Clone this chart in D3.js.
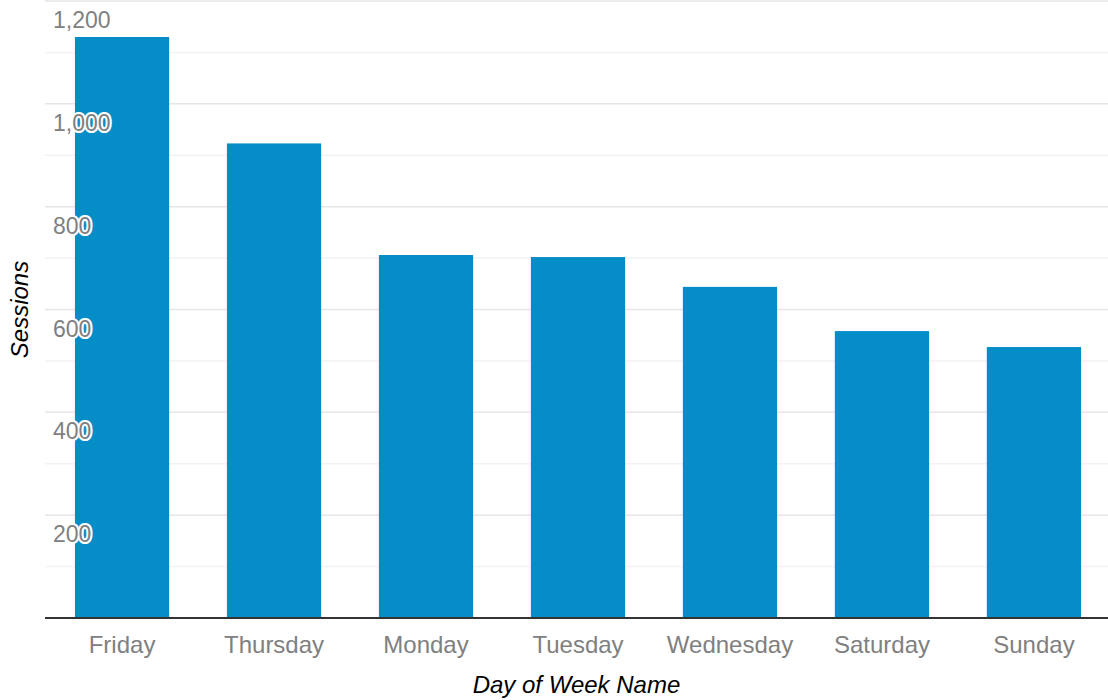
<!DOCTYPE html>
<html>
<head>
<meta charset="utf-8">
<script src="https://cdn.jsdelivr.net/npm/d3@7"></script>
<style>
  body { margin: 0; background: #fff; }
  svg { display: block; font-family: "Liberation Sans", Arial, sans-serif; }
</style>
</head>
<body>
<svg width="1108" height="700"></svg>
<script>
  var days = ["Friday", "Thursday", "Monday", "Tuesday", "Wednesday", "Saturday", "Sunday"];
  var sessions = [1130, 923, 706, 702, 644, 558, 527];
  var majorTicks = [200, 400, 600, 800, 1000, 1200];
  var minorTicks = [100, 300, 500, 700, 900, 1100];

  var svg = d3.select("svg"),
      plotLeft = 45, plotRight = 1108, plotTop = 1, plotBottom = 618;

  // band range runs a few px past the right edge, like the original
  var x = d3.scaleBand().domain(days).range([plotLeft, 1111]).paddingInner(0.38).paddingOuter(0.197),
      y = d3.scaleLinear().domain([0, 1200]).range([plotBottom, plotTop]);

  // grid
  svg.append("g").selectAll("line.minor")
    .data(minorTicks)
    .enter().append("line")
    .attr("class", "minor")
    .attr("x1", plotLeft).attr("x2", plotRight)
    .attr("y1", function(d) { return y(d); })
    .attr("y2", function(d) { return y(d); })
    .attr("stroke", "#f2f2f2")
    .attr("stroke-width", 1.5);

  svg.append("g").selectAll("line.major")
    .data(majorTicks)
    .enter().append("line")
    .attr("class", "major")
    .attr("x1", plotLeft).attr("x2", plotRight)
    .attr("y1", function(d) { return y(d); })
    .attr("y2", function(d) { return y(d); })
    .attr("stroke", "#e6e6e6")
    .attr("stroke-width", 1.5);

  // bars
  svg.append("g").selectAll("rect")
    .data(days)
    .enter().append("rect")
    .attr("x", function(d) { return x(d); })
    .attr("width", x.bandwidth())
    .attr("y", function(d, i) { return y(sessions[i]); })
    .attr("height", function(d, i) { return plotBottom - y(sessions[i]); })
    .attr("fill", "#058dc7");

  // baseline
  svg.append("line")
    .attr("x1", plotLeft).attr("x2", plotRight)
    .attr("y1", plotBottom).attr("y2", plotBottom)
    .attr("stroke", "#333")
    .attr("stroke-width", 2);

  // y tick labels, drawn over bars with a white halo
  svg.append("g").selectAll("text")
    .data(majorTicks)
    .enter().append("text")
    .attr("x", 53)
    .attr("y", function(d) { return y(d) + 27; })
    .style("font-size", "23px")
    .attr("fill", "#808080")
    .attr("stroke", "#fff")
    .attr("stroke-width", 4)
    .attr("stroke-linejoin", "round")
    .style("paint-order", "stroke")
    .text(d3.format(","));

  // x axis labels
  var xAxis = svg.append("g")
    .attr("transform", "translate(0," + plotBottom + ")")
    .call(d3.axisBottom(x).tickSize(0).tickPadding(0));
  xAxis.select(".domain").remove();
  xAxis.selectAll("text")
    .attr("y", 35)
    .attr("dy", null)
    .style("font-size", "24px")
    .style("font-family", "\"Liberation Sans\", Arial, sans-serif")
    .attr("fill", "#808080");

  // axis titles
  svg.append("text")
    .attr("x", (plotLeft + plotRight) / 2)
    .attr("y", 693)
    .attr("text-anchor", "middle")
    .style("font-size", "24px")
    .style("font-style", "italic")
    .attr("fill", "#000")
    .text("Day of Week Name");

  svg.append("text")
    .attr("transform", "translate(28," + ((plotTop + plotBottom) / 2) + ") rotate(-90)")
    .attr("text-anchor", "middle")
    .style("font-size", "24px")
    .style("font-style", "italic")
    .attr("fill", "#000")
    .text("Sessions");
</script>
</body>
</html>
